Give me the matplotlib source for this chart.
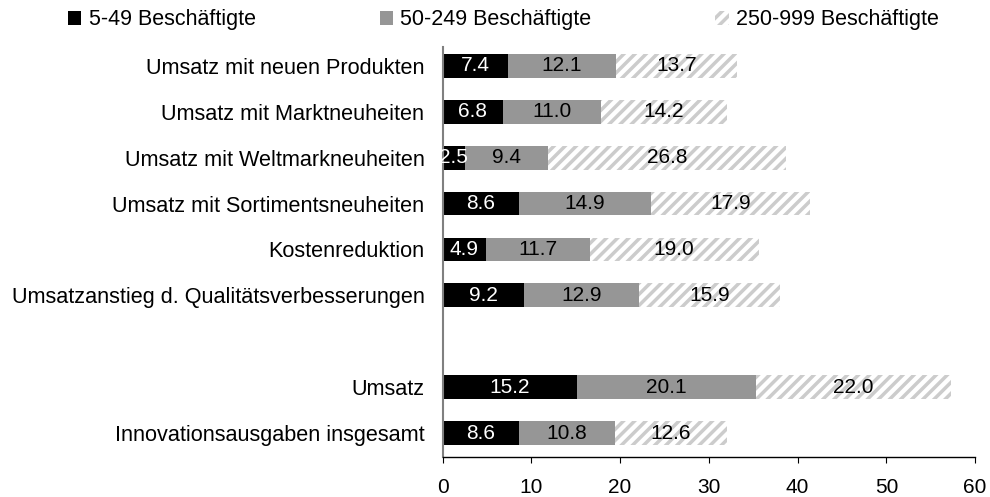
import matplotlib
matplotlib.use("Agg")
import matplotlib.pyplot as plt

plt.rcParams['font.family'] = ['Liberation Sans', 'DejaVu Sans']
plt.rcParams['hatch.linewidth'] = 2.5

# categories top to bottom (None = empty gap row)
categories = [
    "Umsatz mit neuen Produkten",
    "Umsatz mit Marktneuheiten",
    "Umsatz mit Weltmarkneuheiten",
    "Umsatz mit Sortimentsneuheiten",
    "Kostenreduktion",
    "Umsatzanstieg d. Qualitätsverbesserungen",
    None,
    "Umsatz",
    "Innovationsausgaben insgesamt",
]
small = [7.4, 6.8, 2.5, 8.6, 4.9, 9.2, 15.2, 8.6]
medium = [12.1, 11.0, 9.4, 14.9, 11.7, 12.9, 20.1, 10.8]
large = [13.7, 14.2, 26.8, 17.9, 19.0, 15.9, 22.0, 12.6]
series_names = ["5-49 Beschäftigte", "50-249 Beschäftigte", "250-999 Beschäftigte"]
xticks = [0, 10, 20, 30, 40, 50, 60]

pos = [i for i, c in enumerate(categories) if c is not None]
labels = [c for c in categories if c is not None]

fig = plt.figure(figsize=(9.9, 4.97), dpi=100)
ax = fig.add_axes([0.447, 0.0805, 0.538, 0.825])

h = 0.52
left2 = small
left3 = [a + b for a, b in zip(small, medium)]
b1 = ax.barh(pos, small, height=h, color='black', linewidth=0, label=series_names[0])
b2 = ax.barh(pos, medium, left=left2, height=h, color='#969696', linewidth=0,
             label=series_names[1])
b3 = ax.barh(pos, large, left=left3, height=h, facecolor='white', edgecolor='#cccccc',
             hatch='///', linewidth=0, label=series_names[2])

ax.bar_label(b1, fmt='%.1f', label_type='center', color='white', fontsize=15)
ax.bar_label(b2, fmt='%.1f', label_type='center', color='black', fontsize=15)
ax.bar_label(b3, fmt='%.1f', label_type='center', color='black', fontsize=15)

ax.set_yticks(pos)
ax.set_yticklabels(labels, fontsize=15.6)
ax.set_ylim(8.52, -0.41)
ax.set_xlim(0, 60)
ax.set_xticks(xticks)
ax.tick_params(axis='x', labelsize=15, length=4, direction='out', pad=11)
ax.tick_params(axis='y', length=0, pad=13)

for s in ['top', 'right']:
    ax.spines[s].set_visible(False)
ax.spines['left'].set_color('#808080')
ax.spines['left'].set_linewidth(1.5)
ax.spines['bottom'].set_color('black')
ax.spines['bottom'].set_linewidth(1.0)

fig.legend(handles=[b1, b2, b3], loc='center', bbox_to_anchor=(0.5086, 0.96), ncol=3,
           frameon=False, fontsize=15.5, handlelength=0.63, handleheight=0.63,
           handletextpad=0.34, columnspacing=5.75, borderaxespad=0)

fig.savefig('out.png', dpi=100)
